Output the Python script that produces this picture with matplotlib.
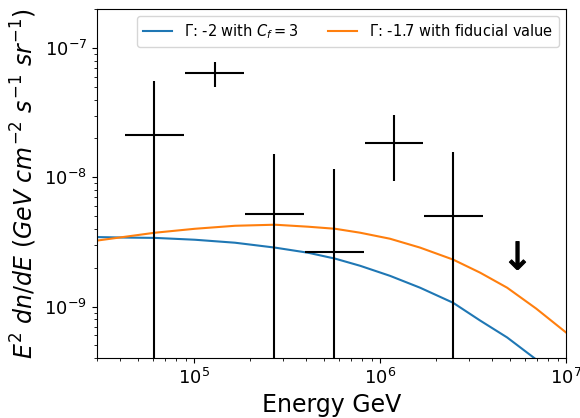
import numpy as np
import matplotlib
matplotlib.use('Agg')
import matplotlib.pyplot as plt

# measured flux points (bin centre, bin edges, flux, flux errors)
e_center = [6.1e4, 1.3e5, 2.69e5, 5.66e5, 1.19e6, 2.47e6]
e_low = [4.26e4, 8.96e4, 1.88e5, 3.95e5, 8.3e5, 1.73e6]
e_high = [8.8e4, 1.86e5, 3.9e5, 8.2e5, 1.70e6, 3.58e6]
flux = [2.13e-8, 6.41e-8, 5.2e-9, 2.66e-9, 1.85e-8, 5.05e-9]
flux_up = [5.55e-8, 7.8e-8, 1.52e-8, 1.16e-8, 3.04e-8, 1.57e-8]
flux_lo = [1e-12, 5.0e-8, 1e-12, 1e-12, 9.4e-9, 1e-12]

# upper limit
ul_energy = [5.46e6]
ul_flux = [2.5e-9]

# model curves
model_energy = [3.0e4, 4.26e4, 6.17e4, 1.01e5, 1.66e5, 2.72e5, 4.10e5, 5.73e5,
                7.80e5, 1.13e6, 1.64e6, 2.47e6, 3.45e6, 4.82e6, 6.9e6, 1.0e7]
model_g2 = [3.45e-9, 3.42e-9, 3.40e-9, 3.29e-9, 3.12e-9, 2.86e-9, 2.61e-9, 2.35e-9,
            2.07e-9, 1.73e-9, 1.40e-9, 1.07e-9, 7.8e-10, 5.77e-10, 3.9e-10, 2.4e-10]
model_g17 = [3.24e-9, 3.47e-9, 3.73e-9, 4.0e-9, 4.22e-9, 4.30e-9, 4.15e-9, 4.0e-9,
             3.73e-9, 3.35e-9, 2.86e-9, 2.31e-9, 1.83e-9, 1.40e-9, 9.66e-10, 6.3e-10]

fig = plt.figure(figsize=(5.8, 4.18), dpi=100)
ax = fig.add_axes([0.167, 0.1435, 0.809, 0.8345])

ax.plot(model_energy, model_g2, color='#1f77b4', lw=1.5, label=r'$\Gamma$: -2 with $C_f=3$')
ax.plot(model_energy, model_g17, color='#ff7f0e', lw=1.5, label=r'$\Gamma$: -1.7 with fiducial value')

x = np.array(e_center)
y = np.array(flux)
xerr = [x - np.array(e_low), np.array(e_high) - x]
yerr = [y - np.array(flux_lo), np.array(flux_up) - y]
ax.errorbar(x, y, xerr=xerr, yerr=yerr, fmt='none', ecolor='k', elinewidth=1.5, capsize=0)

ax.plot(ul_energy, ul_flux, linestyle='none', marker=r'$\downarrow$', color='k',
        markersize=20, markeredgewidth=0.8)

ax.set_xscale('log')
ax.set_yscale('log')
ax.set_xlim(3e4, 1e7)
ax.set_ylim(4e-10, 2e-7)
ax.tick_params(labelsize=13)
ax.set_xlabel('Energy GeV', fontsize=17)
ax.set_ylabel(r'$E^2\ dn/dE\ (GeV\ cm^{-2}\ s^{-1}\ sr^{-1})$', fontsize=17)
ax.legend(loc='upper right', ncol=2, fontsize=10.5)

fig.savefig('out.png', dpi=100)
